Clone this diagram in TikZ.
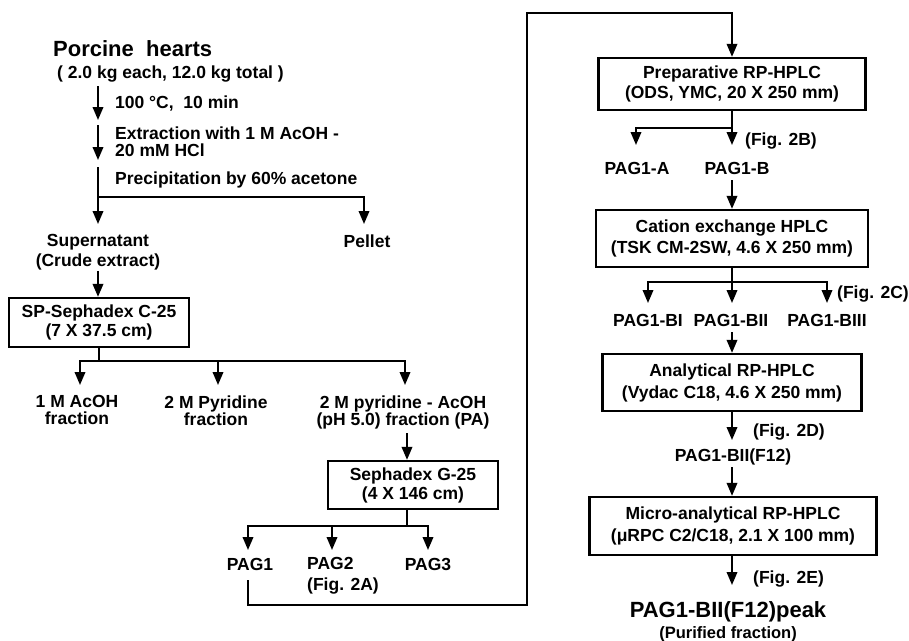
\documentclass[tikz,border=0pt]{standalone}
\usepackage{fontspec}
\setmainfont{Liberation Sans}
\usetikzlibrary{arrows.meta}
\newcommand\fbs[1]{\fontsize{17.5}{#1}\selectfont\bfseries}
\newcommand\fbig{\fontsize{22}{24}\selectfont\bfseries}
\begin{document}
\begin{tikzpicture}[x=1pt,y=-1pt,
  every node/.style={inner sep=0pt, font=\fbs{19}},
  ln/.style={line width=2pt},
  arr/.style={line width=2pt, -{Triangle[width=10.5pt,length=13pt]}},
  box/.style={draw, line width=2.3pt, align=center, inner sep=0pt},
  lbl/.style={align=center, anchor=north}]
\useasboundingbox (0,0) rectangle (909,640);
% ---- left column ----
\node[anchor=base west, font=\fbig] (ph) at (53,56) {Porcine\ \ hearts};
\node[anchor=base west] (pw) at (57,78) {( 2.0 kg each, 12.0 kg total )};
\coordinate (s1) at (98,86);  \coordinate (e1) at (98,120);
\coordinate (s2) at (98,125); \coordinate (e2) at (98,160);
\coordinate (s3) at (98,167); \coordinate (j1) at (98,197);
\draw[arr] (s1) -- (e1);
\draw[arr] (s2) -- (e2);
\node[anchor=base west] (t1) at (115,108) {100 °C,\ \ 10 min};
\node[anchor=north west, align=left, font=\fbs{17}] (t2) at (115,126.5) {Extraction with 1 M AcOH -\\20 mM HCl};
\node[anchor=base west] (t3) at (115,184) {Precipitation by 60\% acetone};
\coordinate (tsup) at (98,224); \coordinate (tpel) at (364,224);
\draw[ln] (s3) -- (j1);
\draw[arr] (j1) -- (tsup);
\draw[arr] (j1) -| (tpel);
\node[lbl, font=\fbs{20}] (sup) at (98,234.5) {Supernatant\\(Crude extract)};
\node[anchor=base] (pel) at (367,247.3) {Pellet};
\node[box, minimum width=180pt, minimum height=49pt] (sp) at (99,322.5) {SP-Sephadex C-25\\(7 X 37.5 cm)};
\draw[arr] (sup.south) -- (sup.south |- sp.north);
\coordinate (j2) at (99,361);
\coordinate (f1t) at (80,385); \coordinate (f2t) at (218,385); \coordinate (f3t) at (405,385);
\draw[ln] (sp.south) -- (j2);
\draw[arr] (j2) -| (f1t);
\draw[arr] (j2) -| (f3t);
\draw[arr] (f2t |- j2) -- (f2t);
\node[lbl, font=\fbs{17}] (f1) at (77,395.5) {1 M AcOH\\fraction};
\node[lbl, font=\fbs{17}] (f2) at (216,395.5) {2 M Pyridine\\fraction};
\node[lbl, font=\fbs{17}] (f3) at (403,395.5) {2 M pyridine - AcOH\\(pH 5.0) fraction (PA)};
\node[box, minimum width=170pt, minimum height=48pt] (g25) at (413,485) {Sephadex G-25\\(4 X 146 cm)};
\coordinate (g0) at (407,433);
\draw[arr] (g0) -- (g0 |- g25.north);
\coordinate (j3) at (407,526);
\coordinate (p1t) at (248,550); \coordinate (p2t) at (332,550); \coordinate (p3t) at (428,550);
\draw[ln] (g0 |- g25.south) -- (j3);
\draw[arr] (j3) -| (p1t);
\draw[arr] (j3) -| (p3t);
\draw[arr] (p2t |- j3) -- (p2t);
\node[anchor=base] (pag1) at (250,570.3) {PAG1};
\node[anchor=north west, align=left, font=\fbs{21}] (pag2) at (307,557.5) {PAG2\\(Fig. 2A)};
\node[anchor=base] (pag3) at (428,570.3) {PAG3};
% ---- right column ----
\node[box, minimum width=267pt, minimum height=52pt, font=\fbs{20}] (prep) at (732,84) {Preparative RP-HPLC\\(ODS, YMC, 20 X 250 mm)};
\coordinate (l0) at (248,580); \coordinate (lb) at (527,605); \coordinate (lt) at (527,13);
\draw[arr] (l0) |- (lb) -- (lt) -| (prep.north);
\coordinate (j4) at (732,128);
\coordinate (pat) at (636,145); \coordinate (pbt) at (732,145);
\draw[ln] (prep.south) -- (j4);
\draw[arr] (j4) -| (pat);
\draw[arr] (j4) -- (pbt);
\node[anchor=base west] (fig2b) at (745,145.3) {(Fig. 2B)};
\node[anchor=base] (pa) at (637,174.3) {PAG1-A};
\node[anchor=base] (pb) at (737,174.3) {PAG1-B};
\node[box, minimum width=272pt, minimum height=57pt, font=\fbs{21}] (cat) at (732,238.5) {Cation exchange HPLC\\(TSK CM-2SW, 4.6 X 250 mm)};
\coordinate (b0) at (732,180);
\draw[arr] (b0) -- (cat.north);
\coordinate (j5) at (732,282);
\coordinate (c1t) at (648,303); \coordinate (c2t) at (732,303); \coordinate (c3t) at (827,303);
\draw[ln] (cat.south) -- (j5);
\draw[arr] (j5) -| (c1t);
\draw[arr] (j5) -| (c3t);
\draw[arr] (j5) -- (c2t);
\node[anchor=base west] (fig2c) at (837,298.3) {(Fig. 2C)};
\node[anchor=base] (bi) at (648,326.3) {PAG1-BI};
\node[anchor=base] (bii) at (731,326.3) {PAG1-BII};
\node[anchor=base] (biii) at (827,326.3) {PAG1-BIII};
\node[box, minimum width=259pt, minimum height=57pt, font=\fbs{22}] (anal) at (732,382.5) {Analytical RP-HPLC\\(Vydac C18, 4.6 X 250 mm)};
\coordinate (d0) at (732,332);
\draw[arr] (d0) -- (anal.north);
\coordinate (dt) at (732,440);
\draw[arr] (anal.south) -- (dt);
\node[anchor=base west] (fig2d) at (753,436.3) {(Fig. 2D)};
\node[anchor=base] (f12) at (733,461.3) {PAG1-BII(F12)};
\node[box, minimum width=287pt, minimum height=58pt, font=\fbs{22}] (micro) at (733,526) {Micro-analytical RP-HPLC\\(μRPC C2/C18, 2.1 X 100 mm)};
\coordinate (m0) at (732,467);
\draw[arr] (m0) -- (m0 |- micro.north);
\coordinate (mt) at (732,585);
\draw[arr] (mt |- micro.south) -- (mt);
\node[anchor=base west] (fig2e) at (753,583.3) {(Fig. 2E)};
\node[anchor=base, font=\fbig] (peak) at (728,617) {PAG1-BII(F12)peak};
\node[anchor=base, font=\fontsize{16.5}{18}\selectfont\bfseries] (pur) at (728,638) {(Purified fraction)};
\end{tikzpicture}
\end{document}
